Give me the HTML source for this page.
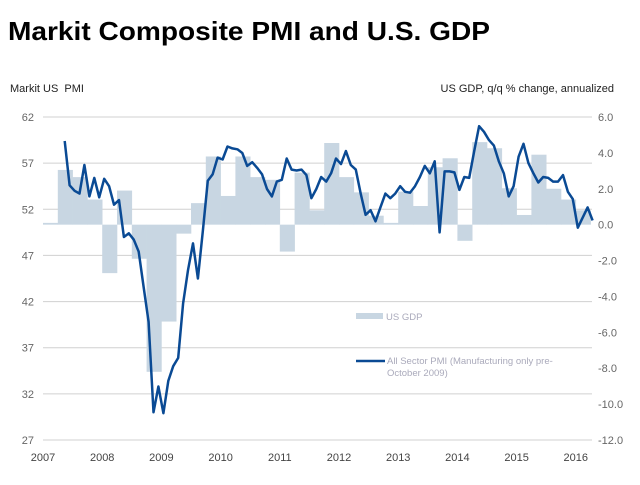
<!DOCTYPE html>
<html><head><meta charset="utf-8"><style>
body{margin:0;background:#fff;width:640px;height:480px;overflow:hidden;font-family:"Liberation Sans",Arial,sans-serif}
svg text{font-family:"Liberation Sans",Arial,sans-serif}
</style></head><body>
<svg id="chart" width="640" height="480">
<text x="8" y="40" font-size="26" font-weight="bold" fill="#000" textLength="482" lengthAdjust="spacingAndGlyphs">Markit Composite PMI and U.S. GDP</text>
<text x="10" y="92" font-size="11" fill="#222">Markit US&#160; PMI</text>
<text x="614" y="92" font-size="11" fill="#222" text-anchor="end">US GDP, q/q % change, annualized</text>
<g id="grid"></g><g id="bars"></g><g id="line"></g><g id="axes"></g>
<g>
<rect x="356" y="313" width="27" height="6" fill="#c8d6e2"/>
<text x="386" y="320" font-size="9.5" fill="#aab">US GDP</text>
<line x1="356" y1="361" x2="385" y2="361" stroke="#0a4a94" stroke-width="2.5"/>
<text x="387" y="364" font-size="9.5" fill="#aab">All Sector PMI (Manufacturing only pre-</text>
<text x="387" y="376" font-size="9.5" fill="#aab">October 2009)</text>
</g>
</svg>
<script>
const yearLabels=["2007","2008","2009","2010","2011","2012","2013","2014","2015","2016"];
const pmiTicks=[62,57,52,47,42,37,32,27];
const gdpTicks=["6.0","4.0","2.0","0.0","-2.0","-4.0","-6.0","-8.0","-10.0","-12.0"];
const gdpValues=[0.1,3.05,2.65,1.4,-2.7,1.9,-1.9,-8.2,-5.4,-0.5,1.2,3.8,1.6,3.8,2.65,2.5,-1.5,2.9,0.8,4.55,2.65,1.8,0.5,0.1,1.84,1.04,3.2,3.7,-0.9,4.6,4.26,2.03,0.54,3.9,2.0,1.4,0.8];
const pmiValues=[59.4,54.6,54.0,53.7,56.8,53.4,55.4,53.3,55.3,54.5,52.5,53.0,49.0,49.4,48.7,47.4,43.6,39.8,30.0,32.8,29.9,33.4,35.0,35.9,41.8,45.4,48.3,44.5,49.6,55.1,55.8,57.6,57.4,58.8,58.6,58.5,58.1,56.7,57.1,56.5,55.8,54.2,53.4,55.0,55.2,57.5,56.3,56.2,56.3,55.7,53.2,54.2,
55.5,55.0,55.9,57.5,56.9,58.3,56.8,56.3,53.7,51.4,51.9,50.7,52.2,53.7,53.2,53.7,54.5,53.9,53.8,54.5,55.5,56.7,55.9,57.2,49.5,56.1,56.1,56.0,54.1,55.5,55.4,58.3,61.0,
60.4,59.5,58.9,57.2,55.9,53.4,54.5,57.7,59.1,57.0,55.9,54.9,55.5,55.4,55.0,55.0,55.7,53.9,53.1,50.0,51.1,52.2,50.8];
const pmiStart=2007+4.4/12;
const NS="http://www.w3.org/2000/svg";
const X0=43,PXY=59.2,L=43,R=592;
const xs=t=>X0+(t-2007)*PXY;
const yP=v=>117+(62-v)*(323/35);
const yG=v=>117+(6-v)*(323/18);
function mk(tag,attrs,parent){const e=document.createElementNS(NS,tag);for(const k in attrs)e.setAttribute(k,attrs[k]);document.getElementById(parent).appendChild(e);return e;}
pmiTicks.forEach((v,i)=>{
 const g=mk('line',{x1:L,x2:R,y1:yP(v),y2:yP(v),stroke:'#d0d0d0','stroke-width':1},'grid');
 
 
 const t=mk('text',{x:34,y:yP(v)+4,'font-size':11,fill:'#666','text-anchor':'end'},'axes');t.textContent=v;
 
 
});
gdpTicks.forEach(s=>{
 const t=mk('text',{x:598,y:yG(parseFloat(s))+4,'font-size':11,fill:'#666'},'axes');t.textContent=s;
 
 
});
yearLabels.forEach(s=>{
 const t=mk('text',{x:xs(+s),y:461,'font-size':11,fill:'#444','text-anchor':'middle'},'axes');t.textContent=s;
 
 
});
const bw=PXY/4;
gdpValues.forEach((v,i)=>{
 const x=xs(2007+i/4),y0=yG(0),y1=yG(v);
 const r=mk('rect',{x:x,y:Math.min(y0,y1),width:bw+0.3,height:Math.abs(y1-y0),fill:'#c8d6e2'},'bars');
 
 
});
const pts=pmiValues.map((v,i)=>xs(pmiStart+i/12).toFixed(1)+','+yP(v).toFixed(1)).join(' ');
const pl=mk('polyline',{points:pts,fill:'none',stroke:'#0a4a94','stroke-width':2.5,'stroke-linejoin':'round'},'line');


</script>
</body></html>
